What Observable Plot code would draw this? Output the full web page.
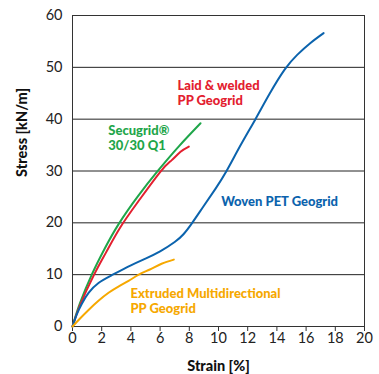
<!DOCTYPE html>
<html>
<head>
<meta charset="utf-8">
<script src="https://cdn.jsdelivr.net/npm/d3@7"></script>
<script src="https://cdn.jsdelivr.net/npm/@observablehq/plot@0.6"></script>
<style>
  html, body { margin: 0; padding: 0; background: #fff; overflow: hidden; }
</style>
</head>
<body>
<div id="chart"></div>
<script>
// Strain [%] and Stress [kN/m]
const secugridStrain = [0, 0.5, 1.32, 2.2, 3.17, 4.5, 5.87, 7.3, 8.77];
const secugridStress = [0, 4.4, 10, 15, 19.8, 25.2, 30.1, 34.8, 39.2];

const laidStrain = [0, 0.5, 1.48, 2.3, 3.29, 4.6, 6.03, 6.8, 7.4, 7.97];
const laidStress = [0, 4.0, 10, 14.3, 19.2, 24.5, 29.9, 32.1, 33.7, 34.7];

const wovenStrain = [0, 0.3, 0.64, 1.1, 1.78, 2.69, 4.0, 5.0, 6.0, 7.0, 7.6, 8.2, 9.0, 9.8, 10.55, 11.5, 12.53, 13.5, 14.54, 15.39, 16.3, 17.2];
const wovenStress = [0, 2.4, 4.4, 6.5, 8.4, 9.9, 11.8, 13.1, 14.5, 16.3, 17.8, 20, 23.3, 26.6, 30, 34.9, 40, 44.9, 49.6, 52.4, 54.7, 56.6];

const extrudedStrain = [0, 0.5, 1.1, 1.8, 2.47, 3.2, 3.84, 4.54, 5.3, 6.1, 6.94];
const extrudedStress = [0, 1.5, 3.2, 5.0, 6.5, 7.8, 8.8, 10, 11.0, 12.1, 12.9];

const seriesNames = ["Secugrid", "Laid", "Woven", "Extruded"];
const seriesColors = ["#1fa64a", "#e3202f", "#0b63ad", "#f6a800"];

const xTicks = [0, 2, 4, 6, 8, 10, 12, 14, 16, 18, 20];
const yTicks = [0, 10, 20, 30, 40, 50, 60];
const gridValues = [10, 20, 30, 40, 50];

// label texts and anchor positions (data units)
const labelTexts = ["Laid & welded\nPP Geogrid", "Secugrid®\n30/30 Q1", "Woven PET Geogrid", "Extruded Multidirectional\nPP Geogrid"];
const labelStrain = [7.19, 2.45, 10.18, 3.97];
const labelStress = [45.1, 36.5, 24.1, 4.9];
const labelColors = [seriesColors[1], seriesColors[0], seriesColors[2], seriesColors[3]];

function toRows(name, xs, ys) { return xs.map((x, i) => ({name, strain: x, stress: ys[i]})); }
const rows = [
  ...toRows("Secugrid", secugridStrain, secugridStress),
  ...toRows("Laid", laidStrain, laidStress),
  ...toRows("Woven", wovenStrain, wovenStress),
  ...toRows("Extruded", extrudedStrain, extrudedStress)
];
const labels = labelTexts.map((t, i) => ({text: t, strain: labelStrain[i], stress: labelStress[i], color: labelColors[i]}));

const font = "Lato, 'Open Sans', sans-serif";

const chart = Plot.plot({
  width: 379,
  height: 374,
  marginLeft: 72,
  marginRight: 15,
  marginTop: 15,
  marginBottom: 48,
  style: {fontFamily: font, background: "#fff", color: "#222"},
  x: {domain: [0, 20], ticks: xTicks, label: null},
  y: {domain: [0, 60], ticks: yTicks, label: null},
  color: {domain: seriesNames, range: seriesColors},
  marks: [
    Plot.ruleY(gridValues, {stroke: "#222", strokeWidth: 1}),
    Plot.frame({stroke: "#333", strokeWidth: 1}),
    Plot.axisX({ticks: xTicks, tickSize: 5, tickPadding: 1, fontSize: 14.5, label: null, stroke: "#333"}),
    Plot.axisY({ticks: yTicks, tickSize: 0, tickPadding: 10, fontSize: 14.5, label: null}),
    Plot.line(rows, {x: "strain", y: "stress", z: "name", stroke: "name", strokeWidth: 2, curve: "natural"}),
    Plot.text(labels, {x: "strain", y: "stress", text: "text", fill: "color", textAnchor: "start", lineAnchor: "middle", lineHeight: 1.15, fontSize: 13, fontWeight: 900}),
    Plot.text(["Stress [kN/m]"], {frameAnchor: "left", rotate: -90, dx: -50, dy: 6, fontSize: 14.5, fontWeight: 900, fill: "#111"}),
    Plot.text(["Strain [%]"], {frameAnchor: "bottom", dy: 44, fontSize: 14.5, fontWeight: 900, fill: "#111"})
  ]
});
document.getElementById("chart").appendChild(chart);
</script>
</body>
</html>
